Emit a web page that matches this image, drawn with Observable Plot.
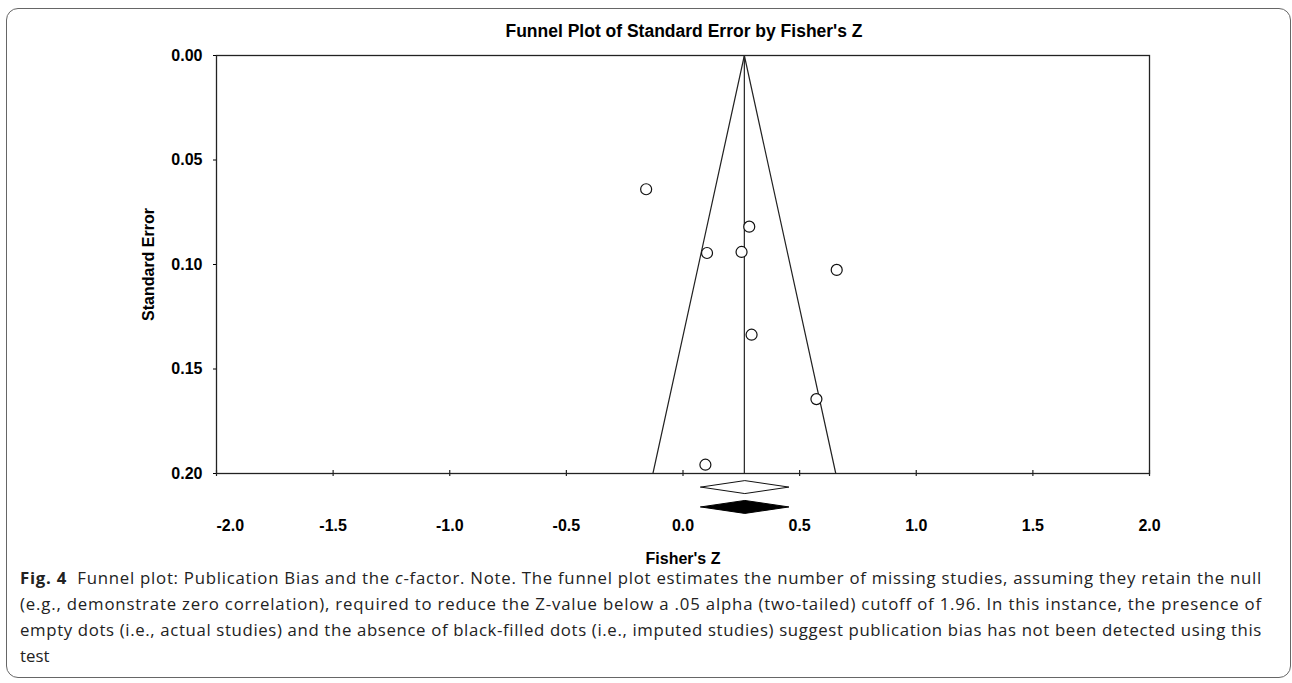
<!DOCTYPE html>
<html>
<head>
<meta charset="utf-8">
<script src="https://cdn.jsdelivr.net/npm/d3@7"></script>
<script src="https://cdn.jsdelivr.net/npm/@observablehq/plot@0.6"></script>
<style>
  html, body { margin: 0; padding: 0; background: #fff; }
  body { width: 1292px; height: 683px; position: relative; overflow: hidden; }
  #card { position: absolute; left: 6px; top: 8px; width: 1285px; height: 670px;
          border: 1.5px solid #666; border-radius: 12px; box-sizing: border-box; }
  #chart { position: absolute; left: 0; top: 0; }
  #title { position: absolute; left: 434px; width: 500px; top: 21px; text-align: center;
           font-family: "Liberation Sans", Arial, sans-serif; font-weight: bold; font-size: 17.5px; color: #000; }
  #caption { position: absolute; left: 20px; top: 565px; width: 1242px;
             font-family: "Open Sans", "Noto Sans", sans-serif; font-size: 16.8px; color: #222; }
  #caption .ln { white-space: nowrap; height: 26px; line-height: 26px; }
</style>
</head>
<body>
<div id="card"></div>
<div id="chart"></div>
<div id="title">Funnel Plot of Standard Error by Fisher's Z</div>
<div id="caption">
  <div class="ln"><b>Fig. 4</b>&nbsp; Funnel plot: Publication Bias and the <i>c</i>-factor. Note. The funnel plot estimates the number of missing studies, assuming they retain the null</div>
  <div class="ln">(e.g., demonstrate zero correlation), required to reduce the Z-value below a .05 alpha (two-tailed) cutoff of 1.96. In this instance, the presence of</div>
  <div class="ln">empty dots (i.e., actual studies) and the absence of black-filled dots (i.e., imputed studies) suggest publication bias has not been detected using this</div>
  <div class="ln last">test</div>
</div>
<script>
// ---- data ----
const studyZ  = [-0.158, 0.284, 0.103, 0.251, 0.659, 0.294, 0.572, 0.096];
const studySE = [0.0640, 0.0819, 0.0945, 0.0940, 0.1026, 0.1336, 0.1644, 0.1958];
const pooledZ = 0.263;
const funnelZ  = [-0.129, 0.263, 0.655];
const funnelSE = [0.20, 0.00, 0.20];
const observedCI = [0.076, 0.265, 0.454];   // lower, estimate, upper (observed)
const imputedCI  = [0.076, 0.265, 0.454];   // lower, estimate, upper (adjusted)
const xTicks = [-2.0, -1.5, -1.0, -0.5, 0.0, 0.5, 1.0, 1.5, 2.0];
const yTicks = [0.00, 0.05, 0.10, 0.15, 0.20];

// ---- layout constants (not data) ----
const W = 1292, H = 570;
const rowObserved = 0.2065, rowImputed = 0.2160, halfH = 0.0031;

const studies = studyZ.map((z, i) => ({z, se: studySE[i]}));
const funnel = funnelZ.map((z, i) => ({z, se: funnelSE[i]}));
function diamond(ci, row) {
  return [
    {z: ci[0], se: row},
    {z: ci[1], se: row - halfH},
    {z: ci[2], se: row},
    {z: ci[1], se: row + halfH},
    {z: ci[0], se: row}
  ];
}
const fmtX = d => d.toFixed(1);

const chart = Plot.plot({
  width: W, height: H,
  marginLeft: 216, marginRight: 143, marginTop: 55, marginBottom: 97,
  style: {fontFamily: "'Liberation Sans', Arial, sans-serif", fontSize: "16px", fontWeight: "bold", color: "#000", background: "transparent", overflow: "visible"},
  x: {domain: [-2, 2]},
  y: {domain: [0, 0.2], reverse: true},
  marks: [
    Plot.frame({stroke: "#222", strokeWidth: 1.3}),
    Plot.axisY(yTicks, {tickSize: 3, tickPadding: 11, tickFormat: d => d.toFixed(2),
      label: "Standard Error", labelAnchor: "center", labelArrow: "none", labelOffset: 74, fontSize: 16}),
    Plot.axisX(xTicks.slice(1), {tickSize: 0, tickPadding: 46, tickFormat: fmtX,
      label: "Fisher's Z", labelAnchor: "center", labelArrow: "none", labelOffset: 90}),
    Plot.axisX(xTicks.slice(0, 1), {tickSize: 0, tickPadding: 46, tickFormat: fmtX, textAnchor: "start", label: null}),
    Plot.ruleX(xTicks, {y1: 0.2, y2: 0.2, insetTop: -3, insetBottom: -3, stroke: "#222", strokeWidth: 1.2}),
    Plot.line(funnel, {x: "z", y: "se", stroke: "#222", strokeWidth: 1.2}),
    Plot.ruleX([pooledZ], {y1: 0, y2: 0.2, stroke: "#222", strokeWidth: 1.2}),
    Plot.dot(studies, {x: "z", y: "se", r: 5.5, stroke: "#111", strokeWidth: 1.2, fill: "white"}),
    Plot.line(diamond(observedCI, rowObserved), {x: "z", y: "se", stroke: "#111", strokeWidth: 1, fill: "white"}),
    Plot.line(diamond(imputedCI, rowImputed), {x: "z", y: "se", stroke: "#000", strokeWidth: 1, fill: "#000"})
  ]
});
document.getElementById("chart").appendChild(chart);

// justify each caption line (except the last) to the full width
const target = 1242;
for (const ln of document.querySelectorAll("#caption .ln")) {
  if (ln.classList.contains("last")) continue;
  const span = document.createElement("span");
  span.innerHTML = ln.innerHTML;
  ln.innerHTML = "";
  ln.appendChild(span);
  const w = span.getBoundingClientRect().width;
  const n = span.textContent.length;
  ln.style.letterSpacing = ((target - w) / n) + "px";
}
</script>
</body>
</html>
